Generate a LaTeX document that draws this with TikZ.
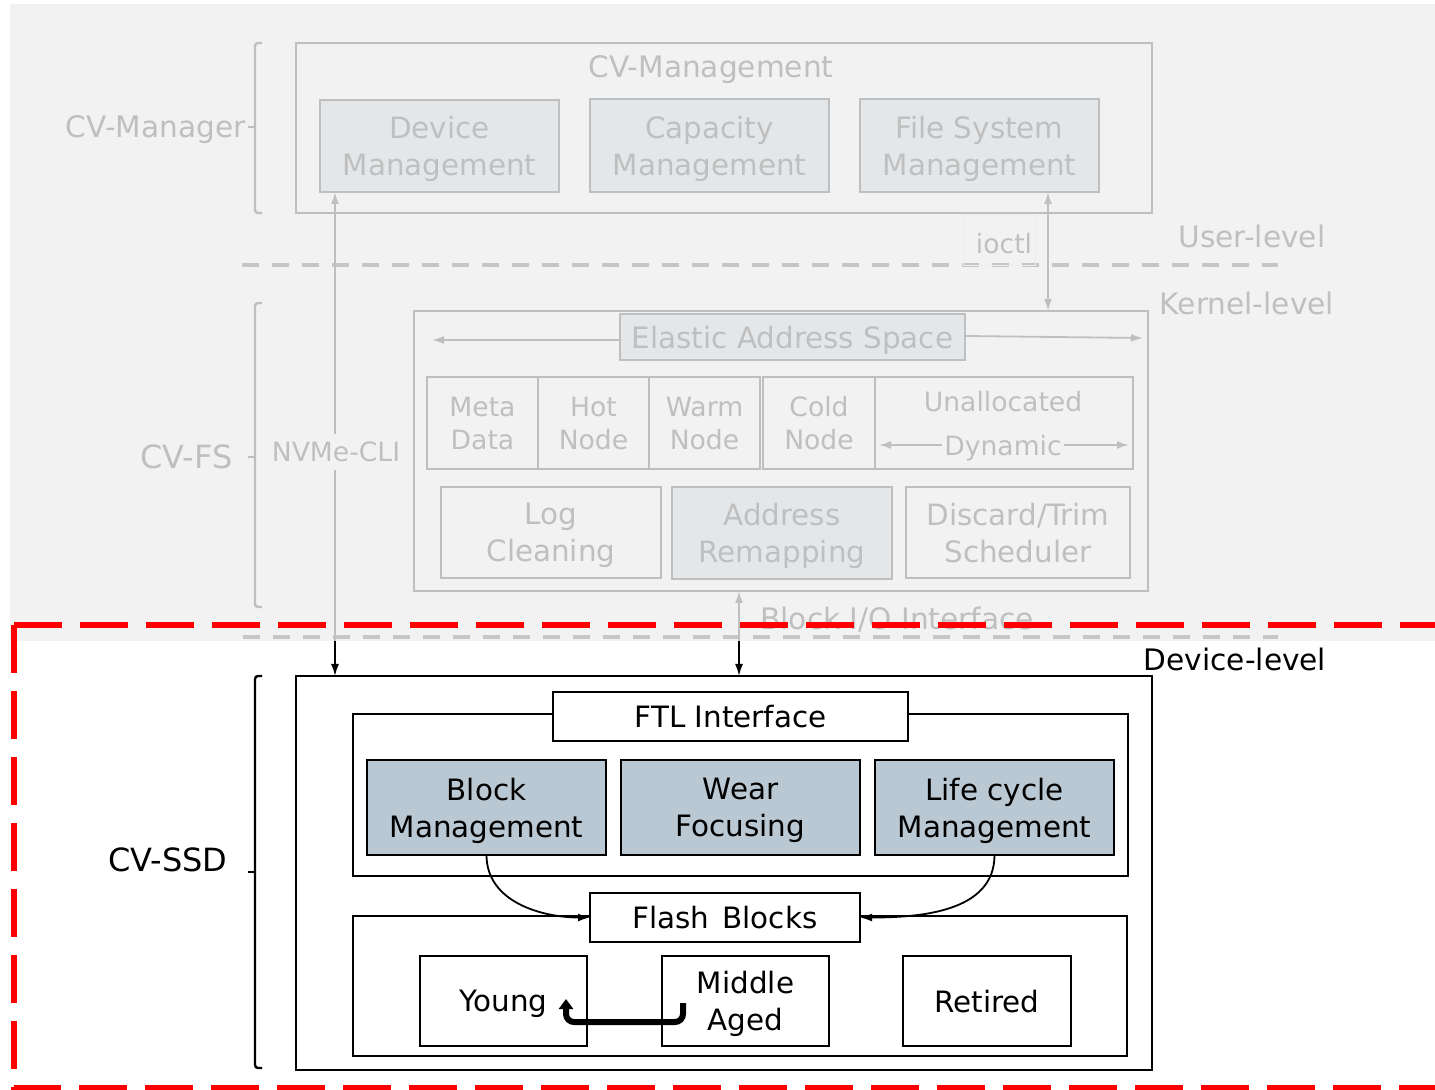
\documentclass[tikz,border=0pt]{standalone}
\usepackage{fontspec}
\setmainfont{DejaVu Sans}
\usetikzlibrary{arrows.meta}
\definecolor{bluegray}{HTML}{BAC8D3}
\definecolor{veil}{HTML}{EFEFEF}
\definecolor{alertred}{HTML}{FF0000}

\begin{document}
\begin{tikzpicture}[x=0.5pt,y=-0.5pt,
  box/.style={draw, line width=1.3pt, inner sep=0pt, outer sep=0pt, align=center,
              text depth=0pt, font=\fontsize{14.7}{18.5}\selectfont},
  unit/.style={box, fill=bluegray},
  plain/.style={box, fill=white},
  cell/.style={box, fill=white, minimum height=46pt,
               font=\fontsize{13.3}{16.5}\selectfont},
  lbl/.style={inner sep=0pt, text depth=0pt, font=\fontsize{14.8}{18}\selectfont},
  small/.style={inner sep=0pt, text depth=0pt, font=\fontsize{13.3}{16}\selectfont},
  tip/.tip={Latex[length=6pt,width=4pt]},
  link/.style={line width=0.9pt, -tip},
  both/.style={line width=0.9pt, tip-tip},
  bracket/.style={line width=1.2pt, rounded corners=1.5pt},
  level/.style={line width=2pt, dash pattern=on 8.5pt off 6.5pt, black!85},
]
\useasboundingbox (0,0) rectangle (1435,1090);

% ---------------- user level: CV-Manager ----------------
\node[plain, minimum width=428pt, minimum height=85pt] (mgmt) at (724,128) {};
\node[lbl] (mgmtT) at (711,67) {CV-Management};
\node[unit, minimum width=119.5pt, minimum height=46pt] (devm) at (439.5,146) {Device\\Management};
\node[unit, minimum width=119.5pt, minimum height=46.5pt] (capm) at (709.5,145.5) {Capacity\\Management};
\node[unit, minimum width=119.5pt, minimum height=46.5pt] (fsm) at (979.5,145.5) {File System\\Management};

\draw[bracket] (262,43) -- (255,43) -- (255,213) -- (262,213);
\draw[line width=1.2pt] (248,127) -- (255,127);
\node[lbl, anchor=east] (mgrL) at (246,127) {CV-Manager};

% level separators and level names
\draw[level] (242,265) -- (1278,265);
\node[lbl] (userL) at (1252,236) {User-level};
\node[lbl] (kernL) at (1247,303) {Kernel-level};

% ---------------- kernel level: CV-FS ----------------
\node[plain, minimum width=367pt, minimum height=140pt] (fs) at (781,451) {};
\node[unit, minimum width=172.5pt, minimum height=23pt] (eas) at (792.5,337) {Elastic Address Space};
\coordinate (easL) at (432,340);
\coordinate (easR) at (1143,338);
\draw[link] (eas.west |- 0,340) -- (easL);
\draw[link] (eas.east |- 0,336) -- (easR);

\node[cell, minimum width=55.5pt] (meta) at (482.5,423) {Meta\\Data};
\node[cell, minimum width=55.5pt] (hot)  at (593.5,423) {Hot\\Node};
\node[cell, minimum width=55.5pt] (warm) at (704.5,423) {Warm\\Node};
\node[cell, minimum width=56pt]   (cold) at (819,423) {Cold\\Node};
\node[cell, minimum width=129pt]  (unal) at (1004,423) {};
\node[small] (unalT) at (1003,401) {Unallocated};
\node[small, fill=white, inner xsep=1pt] (dyn) at (1003,445) {Dynamic};
\coordinate (dynL) at (879,445);
\coordinate (dynR) at (1129,445);
\draw[link] (dyn.west) -- (dynL);
\draw[link] (dyn.east) -- (dynR);

\node[plain, minimum width=110pt, minimum height=45.5pt] (logc) at (551,532.5) {Log\\Cleaning};
\node[unit, minimum width=110pt, minimum height=46pt] (addr) at (782,533) {Address\\Remapping};
\node[plain, minimum width=112pt, minimum height=45.5pt] (disc) at (1018,532.5) {Discard/Trim\\Scheduler};

\draw[bracket] (262,303) -- (255,303) -- (255,607) -- (262,607);
\draw[line width=1.2pt] (248,457) -- (255,457);
\node[lbl, anchor=east, font=\fontsize{16}{18}\selectfont] (fsL) at (233,457) {CV-FS};

% ioctl between user and kernel level
\node[small, draw=black!12, line width=0.5pt, minimum width=36pt, minimum height=25.5pt] (ioctl) at (999,240.5) {};
\node[small] (ioctlT) at (1004,243) {ioctl};
\coordinate (iox) at (1048,0);
\draw[both] (fsm.south -| iox) -- (fs.north -| iox);

\draw[level] (243,637) -- (1278,637);

% ---------------- device level: CV-SSD ----------------
\node[plain, minimum width=428pt, minimum height=197pt] (ssd) at (724,873) {};
\node[lbl] (devL) at (1235,659) {Device-level};

\draw[bracket] (262,676) -- (255,676) -- (255,1068) -- (262,1068);
\draw[line width=1.2pt] (248,872) -- (255,872);
\node[lbl, anchor=east, font=\fontsize{16}{18}\selectfont] (ssdL) at (228,860) {CV-SSD};

\node[plain, minimum width=387.5pt, minimum height=81pt] (ftlc) at (740.5,795) {};
\node[plain, minimum width=177.5pt, minimum height=24.5pt] (ftl) at (730.5,716.5) {FTL Interface};
\node[unit, minimum width=119.5pt, minimum height=47.5pt] (blk)  at (486.5,807.5) {Block\\Management};
\node[unit, minimum width=119.5pt, minimum height=47.5pt] (wear) at (740.5,807.5) {Wear\\Focusing};
\node[unit, minimum width=119.5pt, minimum height=47.5pt] (life) at (994.5,807.5) {Life cycle\\Management};

\node[plain, minimum width=387pt, minimum height=70pt] (flc) at (740,986) {};
\node[plain, minimum width=135pt, minimum height=24.5pt] (flash) at (725,917.5) {Flash\;\,Blocks};
\node[plain, minimum width=83.5pt, minimum height=45pt] (young) at (503.5,1001) {Young};
\node[plain, minimum width=83.5pt, minimum height=45pt] (mid)   at (745.5,1001) {Middle\\Aged};
\node[plain, minimum width=84pt, minimum height=45pt]  (ret)   at (987,1001) {Retired};

\draw[link] (blk.south) to[out=-90, in=180] (flash.west);
\draw[link] (life.south) to[out=-90, in=0] (flash.east);

% blocks moving back from middle aged to young
\coordinate (ua) at (683,1003);
\coordinate (ub) at (566,999);
\draw[line width=3pt, rounded corners=4pt, -{Triangle[length=5pt,width=7pt]}]
  (ua) -- (683,1022) -- (566,1022) -- (ub);

% interfaces crossing the levels
\coordinate (nvx) at (335,0);
\draw[both] (devm.south -| nvx) -- (ssd.north -| nvx);
\node[small, fill=white, inner ysep=4pt, inner xsep=1pt] (nvme) at (336,452) {NVMe-CLI};
\coordinate (biox) at (739,0);
\draw[both] (fs.south -| biox) -- (ssd.north -| biox);
\node[small, anchor=west, font=\fontsize{14.8}{16}\selectfont] (bio) at (760,618) {Block I/O Interface};

% ---------------- veil over the host-side layers ----------------
\fill[veil, opacity=0.8] (10,4) rectangle (1435,641);

% ---------------- focus frame around the device ----------------
\draw[alertred, line width=3pt, dash pattern=on 24pt off 9pt] (14,625) -- (1460,625);
\draw[alertred, line width=3pt, dash pattern=on 24pt off 9pt] (14,625) -- (14,1088) -- (1460,1088);
\end{tikzpicture}
\end{document}
